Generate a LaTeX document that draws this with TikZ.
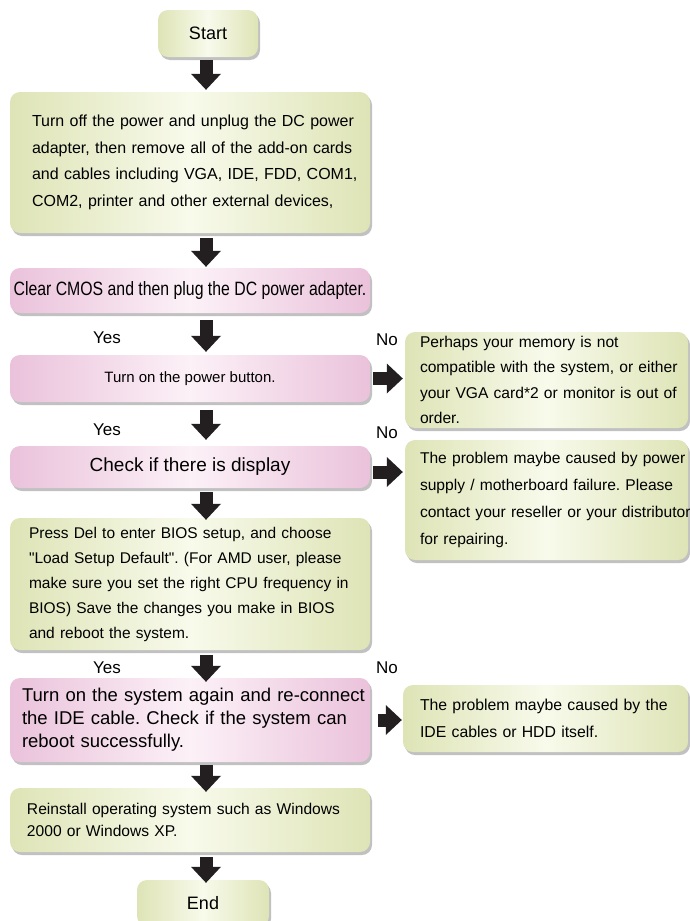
\documentclass[tikz,border=0pt]{standalone}
\usepackage{fontspec}
\setmainfont{Liberation Sans}[Ligatures=TeXOff]
\newfontfamily\narrowfont{Liberation Sans}[FakeStretch=0.82,Ligatures=TeXOff]
\usetikzlibrary{arrows.meta,shadows,calc}
\definecolor{grnE}{HTML}{DEE4B6}
\definecolor{grnC}{HTML}{F8FAEB}
\definecolor{pnkE}{HTML}{EAC2DB}
\definecolor{pnkC}{HTML}{FCF1F7}
\definecolor{arr}{HTML}{231F20}
\newcommand\oneline[1]{\mbox{#1}}
\tikzset{
  box/.style={rectangle, rounded corners=10pt, draw=none, inner sep=0pt,
    minimum width=360pt,
    drop shadow={shadow xshift=2pt, shadow yshift=-3pt, opacity=0.35, fill=black!70}},
  gbox/.style={box, left color=grnE, right color=grnE, middle color=grnC},
  pbox/.style={box, left color=pnkE, right color=pnkE, middle color=pnkC},
  darrow/.style={draw=arr, line width=13pt,
    -{Triangle[width=30pt,length=16pt,line width=0pt]}},
  lbl/.style={font=\fontsize{17}{20}\selectfont, inner sep=0pt},
}
\begin{document}
\frenchspacing
\begin{tikzpicture}[x=1pt,y=-1pt]
\useasboundingbox (0,0) rectangle (689,921);
\coordinate (axis) at (206,0);

\node[gbox, minimum width=100pt, minimum height=47pt, font=\fontsize{18}{20}\selectfont] (start) at (208,33.5) {Start};

\node[gbox, minimum height=141pt, text width=316pt, align=left, font=\fontsize{16}{26.7}\selectfont] (b2) at (190,162.5)
 {\oneline{Turn off the power and unplug the DC power}\\
  \oneline{adapter, then remove all of the add-on cards}\\
  \oneline{and cables including VGA, IDE, FDD, COM1,}\\
  \oneline{COM2, printer and other external devices,}};

\node[pbox, minimum height=45pt, font=\narrowfont\fontsize{19.3}{22}\selectfont] (b3) at (190,290.5)
 {Clear CMOS and then plug the DC power adapter.};

\node[pbox, minimum height=47pt, font=\fontsize{15}{18}\selectfont] (b4) at (190,378.5)
 {Turn on the power button.};

\node[pbox, minimum height=42pt, font=\fontsize{19}{22}\selectfont] (b5) at (190,467)
 {Check if there is display};

\node[gbox, minimum height=132pt, text width=322pt, align=left, font=\fontsize{15.5}{25}\selectfont] (b6) at (190,584)
 {\oneline{Press Del to enter BIOS setup, and choose}\\
  \oneline{"Load Setup Default". (For AMD user, please}\\
  \oneline{make sure you set the right CPU frequency in}\\
  \oneline{BIOS) Save the changes you make in BIOS}\\
  \oneline{and reboot the system.}};

\node[pbox, minimum height=84pt, text width=336pt, align=left, font=\fontsize{18.5}{23}\selectfont] (b7) at (190,720)
 {\oneline{Turn on the system again and re-connect}\\
  \oneline{the IDE cable. Check if the system can}\\
  \oneline{reboot successfully.}};

\node[gbox, minimum height=64pt, text width=326pt, align=left, font=\fontsize{15.6}{22}\selectfont] (b8) at (190,820)
 {\oneline{Reinstall operating system such as Windows}\\
  \oneline{2000 or Windows XP.}};

\node[gbox, minimum width=132pt, minimum height=46pt, font=\fontsize{18}{20}\selectfont] (end) at (203,903) {End};

\node[gbox, minimum width=283pt, minimum height=96pt, text width=253pt, align=left, font=\fontsize{15.6}{25.5}\selectfont] (r1) at (546.5,380)
 {\oneline{Perhaps your memory is not}\\
  \oneline{compatible with the system, or either}\\
  \oneline{your VGA card*2 or monitor is out of}\\
  \oneline{order.}};

\node[gbox, minimum width=283pt, minimum height=120pt, text width=253pt, align=left, font=\fontsize{15.6}{26.7}\selectfont] (r2) at (546.5,500)
 {\oneline{The problem maybe caused by power}\\
  \oneline{supply / motherboard failure. Please}\\
  \oneline{contact your reseller or your distributor}\\
  \oneline{for repairing.}};

\node[gbox, minimum width=285pt, minimum height=67pt, text width=251pt, align=left, font=\fontsize{15.8}{27}\selectfont] (r3) at (545.5,718.5)
 {\oneline{The problem maybe caused by the}\\
  \oneline{IDE cables or HDD itself.}};

\node[lbl] (y1) at (107,338) {Yes};
\node[lbl] (n1) at (387,340) {No};
\node[lbl] (y2) at (107,430) {Yes};
\node[lbl] (n2) at (387,433) {No};
\node[lbl] (y3) at (107,668) {Yes};
\node[lbl] (n3) at (387,668) {No};

\draw[darrow, shorten <=3pt, shorten >=2pt] (start.south -| axis) -- (b2.north -| axis);
\draw[darrow, shorten <=5pt, shorten >=1pt] (b2.south -| axis) -- (b3.north -| axis);
\draw[darrow, shorten <=7pt, shorten >=3pt] (b3.south -| axis) -- (b4.north -| axis);
\draw[darrow, shorten <=8pt, shorten >=6pt] (b4.south -| axis) -- (b5.north -| axis);
\draw[darrow, shorten <=4pt, shorten >=-2pt] (b5.south -| axis) -- (b6.north -| axis);
\draw[darrow, shorten <=5pt, shorten >=-4pt] (b6.south -| axis) -- (b7.north -| axis);
\draw[darrow, shorten <=3pt, shorten >=-4pt] (b7.south -| axis) -- (b8.north -| axis);
\draw[darrow, shorten <=5pt, shorten >=-3pt] (b8.south -| axis) -- (end.north -| axis);

\draw[darrow, shorten <=3pt, shorten >=2pt] (b4.east) -- (b4.east -| r1.west);
\draw[darrow, shorten <=3pt, shorten >=2pt] ($(b5.east)+(0,5)$) -- ($(b5.east -| r2.west)+(0,5)$);
\draw[darrow, shorten <=8pt, shorten >=1pt] (b7.east) -- (b7.east -| r3.west);
\end{tikzpicture}
\end{document}
